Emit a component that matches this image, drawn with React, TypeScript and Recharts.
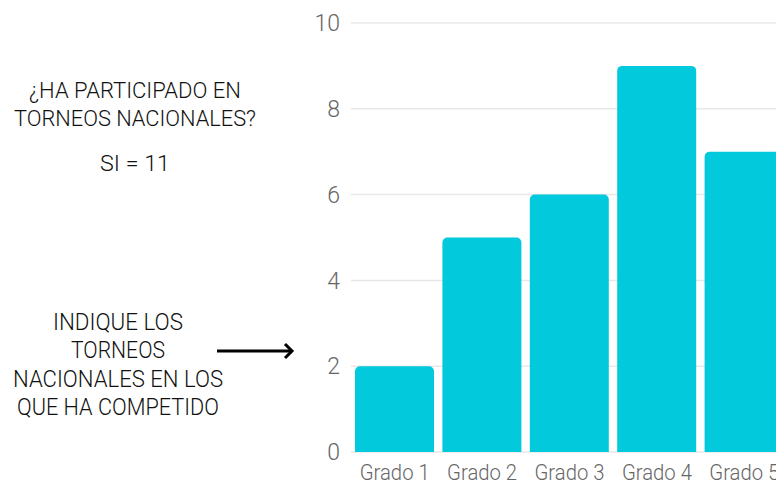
import React from 'react';
import { BarChart, Bar, XAxis, YAxis, CartesianGrid } from 'recharts';

const categories = ['Grado 1', 'Grado 2', 'Grado 3', 'Grado 4', 'Grado 5'];
const values = [2, 5, 6, 9, 7];
const yTicks = [0, 2, 4, 6, 8, 10];
const questionLines = ['¿HA PARTICIPADO EN', 'TORNEOS NACIONALES?'];
const answerLine = 'SI = 11';
const noteLines = ['INDIQUE LOS', 'TORNEOS', 'NACIONALES EN LOS', 'QUE HA COMPETIDO'];

const data = categories.map((c, i) => ({ name: c, value: values[i] }));

const FONT = 'Roboto, "Open Sans", sans-serif';

const XTick = (props: any) => {
  const { x, y, payload } = props;
  return (
    <text x={x} y={y} textAnchor="middle" fontFamily={FONT} fontSize={21.5} fontWeight={300} fill="#666"
      textLength={70} lengthAdjust="spacingAndGlyphs">{payload.value}</text>
  );
};

export default function App() {
  const q = [
    { t: questionLines[0], y: 98, w: 212 },
    { t: questionLines[1], y: 126, w: 242 },
    { t: answerLine, y: 171, w: 70 },
  ];
  const n = [
    { t: noteLines[0], y: 330, w: 130 },
    { t: noteLines[1], y: 358, w: 94 },
    { t: noteLines[2], y: 387, w: 210 },
    { t: noteLines[3], y: 415, w: 202 },
  ];
  return (
    <div style={{ position: 'absolute', left: 0, top: 0, width: 776, height: 485, overflow: 'hidden', background: '#fff' }}>
      <svg width={340} height={485} style={{ position: 'absolute', left: 0, top: 0 }}>
        {q.map((l, i) => (
          <text key={'q' + i} x={135} y={l.y} textAnchor="middle" fontFamily={FONT} fontSize={22} fontWeight={300} fill="#111"
            textLength={l.w} lengthAdjust="spacingAndGlyphs">{l.t}</text>
        ))}
        {n.map((l, i) => (
          <text key={'n' + i} x={118} y={l.y} textAnchor="middle" fontFamily={FONT} fontSize={23} fontWeight={300} fill="#111"
            textLength={l.w} lengthAdjust="spacingAndGlyphs">{l.t}</text>
        ))}
        <line x1={217} y1={351} x2={291} y2={351} stroke="#000" strokeWidth={3} />
        <path d="M285 344 L292 351 L285 358" fill="none" stroke="#000" strokeWidth={3} strokeLinejoin="miter" />
      </svg>
      <div style={{ position: 'absolute', left: 0, top: 0 }}>
        <BarChart width={788} height={485} data={data} margin={{ top: 23, right: 0, bottom: 0, left: 0 }} barCategoryGap={4}>
          <CartesianGrid vertical={false} stroke="#e8e8e8" strokeWidth={1.5} />
          <XAxis dataKey="name" axisLine={false} tickLine={false} tickSize={0} tickMargin={28} height={33}
            interval={0} tick={<XTick />} />
          <YAxis domain={[0, 10]} ticks={yTicks} axisLine={false} tickLine={false} tickSize={0} tickMargin={11}
            width={351} tick={{ fill: '#666', fontSize: 23, fontWeight: 300, fontFamily: FONT }} />
          <Bar dataKey="value" fill="#02C9DB" radius={[5, 5, 0, 0]} isAnimationActive={false} />
        </BarChart>
      </div>
    </div>
  );
}
